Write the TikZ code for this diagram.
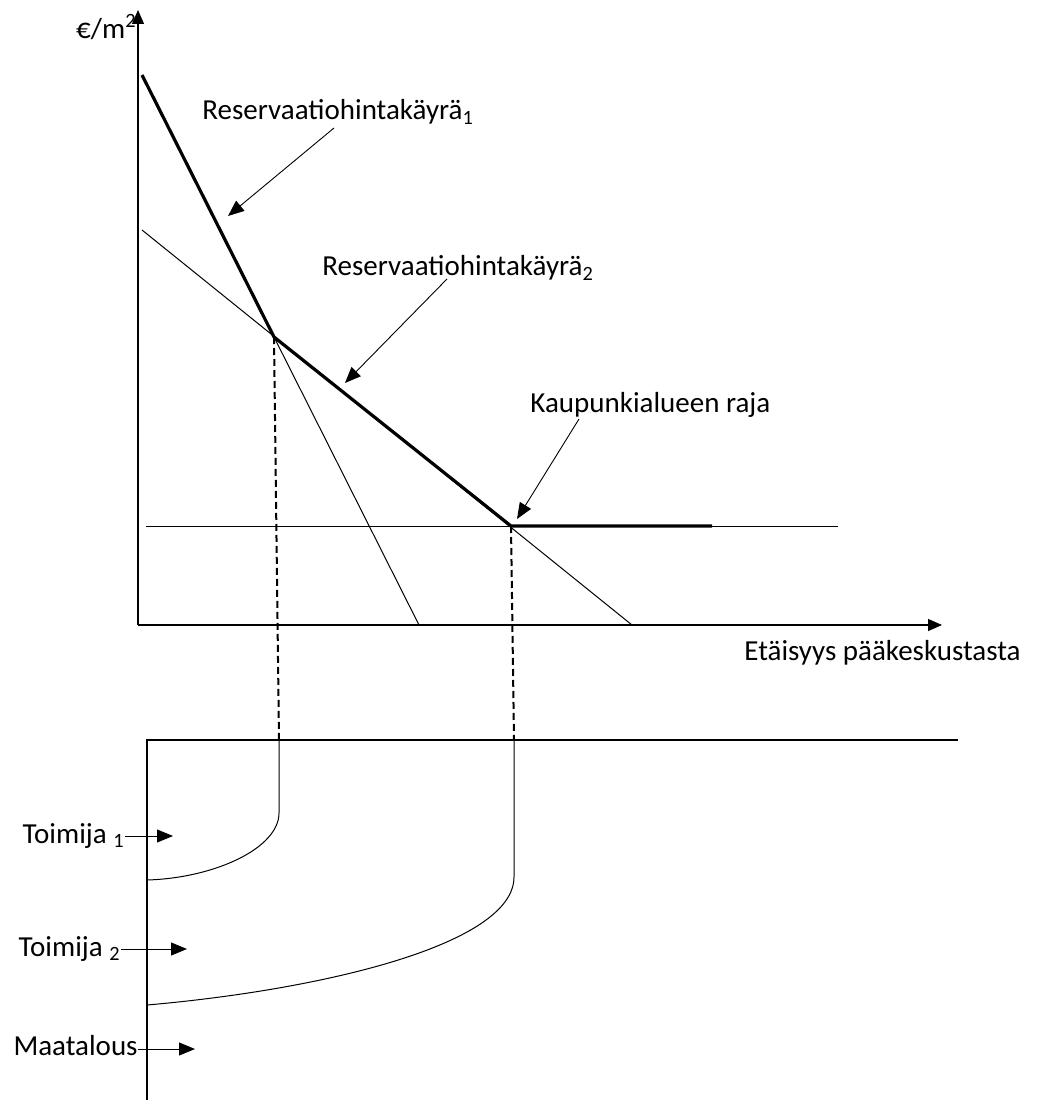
\documentclass[tikz,border=0pt]{standalone}
\usepackage{fontspec}
\setmainfont{Carlito}
\usetikzlibrary{arrows.meta}
\tikzset{
  thin line/.style={line width=0.5pt},
  thick curve/.style={line width=1.6pt},
  axis/.style={line width=0.6pt, -{Triangle[length=7pt,width=6pt]}},
  pointer/.style={line width=0.45pt, -{Triangle[length=8pt,width=6.5pt]}},
  guide/.style={line width=1pt, dash pattern=on 3.5pt off 2pt},
  lbl/.style={inner sep=0pt, font=\fontsize{14.5}{16}\selectfont}
}
\begin{document}
\begin{tikzpicture}[x=0.5pt,y=-0.5pt]
\useasboundingbox (0,0) rectangle (1038,1107);
% points of the upper picture:
\coordinate (O) at (138,625); \coordinate (ytip) at (138,10); \coordinate (xtip) at (942,625);
\coordinate (A1) at (142,75); \coordinate (K1) at (274,337); \coordinate (E1) at (419,625);
\coordinate (A2) at (142,230); \coordinate (K2) at (511,526); \coordinate (E2) at (632,625);
\coordinate (H1) at (146,526); \coordinate (H2) at (838,526); \coordinate (T) at (712,526);
% axes:
\draw[axis] (O) -- (ytip);
\draw[axis] (O) -- (xtip);
\node[lbl, anchor=east] (yl) at (137,27) {€/m\textsuperscript{2}};
\node[lbl, anchor=north east] (xl) at (1021,640) {Etäisyys pääkeskustasta};
% thin lines:
\draw[thin line] (K1) -- (E1);
\draw[thin line] (A2) -- (E2);
\draw[thin line] (H1) -- (H2);
% thick curve:
\draw[thick curve] (A1) -- (K1) -- (K2) -- (T);
% labels with pointers:
\node[lbl, anchor=west] (r1) at (202,112) {Reservaatiohintakäyrä\textsubscript{1}};
\coordinate (r1tip) at (228,216);
\draw[pointer] (334,128) -- (r1tip);
\node[lbl, anchor=west] (r2) at (322,268) {Reservaatiohintakäyrä\textsubscript{2}};
\coordinate (r2tip) at (345,383);
\draw[pointer] (447,279) -- (r2tip);
\node[lbl, anchor=west] (kr) at (530,405) {Kaupunkialueen raja};
\coordinate (krtip) at (517,519);
\draw[pointer] (579,419) -- (krtip);
% lower picture:
\coordinate (B0) at (147,740); \coordinate (B1) at (958,740); \coordinate (Bb) at (147,1100);
\coordinate (D1) at (279,740); \coordinate (D2) at (514,740);
\draw[guide] (K1) -- (D1);
\draw[guide] (K2) -- (D2);
\draw[line width=0.6pt] (Bb) -- (B0) -- (B1);
\draw[thin line] (D1) -- (279,813) .. controls (279,848) and (215,878) .. (147,880);
\draw[thin line] (D2) -- (514,877) .. controls (514,945) and (320,990) .. (147,1005);
% who uses the land:
\node[lbl, anchor=east] (t1) at (125,836) {Toimija \textsubscript{1}};
\draw[pointer] (t1.east) -- (173,836);
\node[lbl, anchor=east] (t2) at (121,949) {Toimija \textsubscript{2}};
\draw[pointer] (t2.east) -- (187,949);
\node[lbl, anchor=east] (mt) at (138,1046) {Maatalous};
\draw[pointer] (mt.east) ++(0,3) -- (195,1049);
\end{tikzpicture}
\end{document}
